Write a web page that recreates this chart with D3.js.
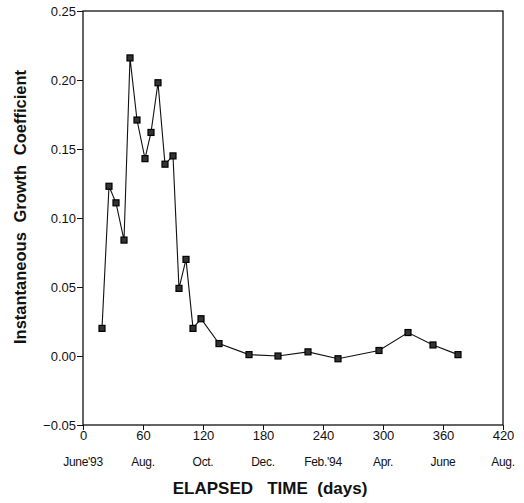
<!DOCTYPE html>
<html>
<head>
<meta charset="utf-8">
<script src="https://cdn.jsdelivr.net/npm/d3@7"></script>
<style>
	body { margin: 0; background: #fff; }
	text { font-family: "Liberation Sans", Arial, sans-serif; fill: #111; }
</style>
</head>
<body>
<div id="chart"></div>
<script>
// sampling days and growth coefficient
var days = [19, 26, 33, 41, 47, 54, 62, 68, 75, 82, 90, 96, 103, 110, 118, 136, 166, 195, 225, 255, 296, 325, 350, 375];
var growth = [0.020, 0.123, 0.111, 0.084, 0.216, 0.171, 0.143, 0.162, 0.198, 0.139, 0.145, 0.049, 0.070, 0.020, 0.027, 0.009, 0.001, 0.000, 0.003, -0.002, 0.004, 0.017, 0.008, 0.001];
var xTicks = [0, 60, 120, 180, 240, 300, 360, 420];
var monthLabels = ["June'93", "Aug.", "Oct.", "Dec.", "Feb.'94", "Apr.", "June", "Aug."];
var yTicks = [-0.05, 0.00, 0.05, 0.10, 0.15, 0.20, 0.25];

var width = 524, height = 503;
var margin = {left: 83, right: 21, top: 11, bottom: 78};

var svg = d3.select("#chart").append("svg")
	.attr("width", width)
	.attr("height", height);

var x = d3.scaleLinear().domain([0, 420]).range([margin.left, width - margin.right]);
var y = d3.scaleLinear().domain([-0.05, 0.25]).range([height - margin.bottom, margin.top]);

// frame
svg.append("rect")
	.attr("x", x(0)).attr("y", y(0.25))
	.attr("width", x(420) - x(0)).attr("height", y(-0.05) - y(0.25))
	.attr("fill", "none").attr("stroke", "#111").attr("stroke-width", 1.3);

var yAxis = svg.append("g")
	.attr("transform", "translate(" + x(0) + ",0)")
	.call(d3.axisLeft(y).tickValues(yTicks).tickFormat(d3.format(".2f")).tickSize(6).tickPadding(1));
yAxis.select(".domain").remove();
yAxis.selectAll("text").style("font-size", "13px").attr("fill", "#111");
yAxis.selectAll("line").attr("stroke", "#111");

var xAxis = svg.append("g")
	.attr("transform", "translate(0," + y(-0.05) + ")")
	.call(d3.axisBottom(x).tickValues(xTicks).tickFormat(d3.format("d")).tickSize(5).tickPadding(1));
xAxis.select(".domain").remove();
xAxis.selectAll("text").style("font-size", "13px").attr("fill", "#111");
xAxis.selectAll("line").attr("stroke", "#111");

// month labels under the day numbers
svg.selectAll(".month")
	.data(monthLabels)
	.enter()
	.append("text")
	.attr("class", "month")
	.attr("x", function (d, i) { return x(xTicks[i]); })
	.attr("y", y(-0.05) + 41)
	.attr("text-anchor", "middle")
	.style("font-size", "12px")
	.style("letter-spacing", "-0.3px")
	.text(function (d) { return d; });

var pts = days.map(function (d, i) { return [d, growth[i]]; });

svg.append("path")
	.datum(pts)
	.attr("d", d3.line()
		.x(function (d) { return x(d[0]); })
		.y(function (d) { return y(d[1]); }))
	.attr("fill", "none")
	.attr("stroke", "#111")
	.attr("stroke-width", 1.1);

svg.selectAll(".pt")
	.data(pts)
	.enter()
	.append("rect")
	.attr("class", "pt")
	.attr("x", function (d) { return x(d[0]) - 3; })
	.attr("y", function (d) { return y(d[1]) - 3; })
	.attr("width", 6).attr("height", 6)
	.attr("fill", "#333")
	.attr("stroke", "#000")
	.attr("stroke-width", 1.2);

svg.append("text")
	.attr("x", 270).attr("y", 494)
	.attr("text-anchor", "middle")
	.style("font-size", "17px").style("font-weight", "bold")
	.attr("xml:space", "preserve")
	.text("ELAPSED   TIME  (days)");

svg.append("text")
	.attr("transform", "translate(26,207) rotate(-90)")
	.attr("text-anchor", "middle")
	.style("font-size", "16.5px").style("font-weight", "bold")
	.style("word-spacing", "5px")
	.text("Instantaneous Growth Coefficient");
</script>
</body>
</html>
